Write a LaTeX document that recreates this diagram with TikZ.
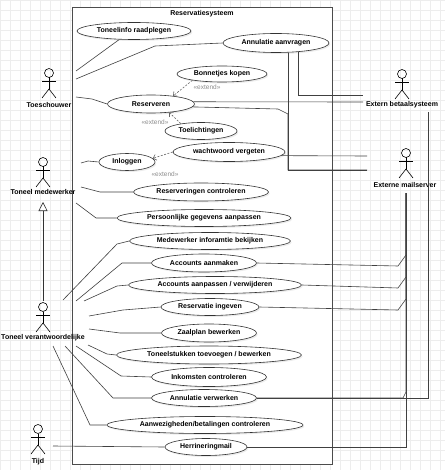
\documentclass[tikz,border=0pt]{standalone}
\usepackage{fontspec}
\setmainfont{Liberation Sans}
\usetikzlibrary{shapes.geometric,arrows.meta,shadows}

% stick figure, head centre at (#1,#2)
\newcommand{\actorfig}[2]{%
  \draw (#1,#2) circle[radius=4.5];
  \draw (#1,#2+4.5) -- (#1,#2+16);
  \draw (#1-7,#2+8) -- (#1+7,#2+8);
  \draw (#1-7,#2+25) -- (#1,#2+16) -- (#1+7,#2+25);
}

\begin{document}
\begin{tikzpicture}[x=1pt, y=-1pt, line width=0.6pt,
  font=\fontsize{7}{8}\selectfont\bfseries,
  uc/.style={ellipse, draw=black!80, fill=white, inner sep=0pt, minimum height=17pt,
    drop shadow={shadow xshift=1.2pt, shadow yshift=-1.5pt, opacity=0.15}},
  actorlbl/.style={inner sep=0pt},
  link/.style={draw=black!75},
  extarrow/.style={draw=black!60, dash pattern=on 2pt off 1.5pt,
    -{Straight Barb[length=3pt, width=6pt]}},
  extlbl/.style={font=\fontsize{6.5}{7}\selectfont, text=black!45, inner sep=0pt}]

\useasboundingbox (0,0) rectangle (445,470);
\fill[white] (0,0) rectangle (445,470);
\draw[black!7, line width=0.3pt, step=10pt] (0,470) grid (445,0);

% System boundary
\draw[black!70, fill=white] (72,7) rectangle (332,464);
\node[inner sep=0pt] (sys) at (202,14) {Reservatiesysteem};

% Actors
\actorfig{49}{73}
\node[actorlbl] (ts) at (49,105) {Toeschouwer};
\actorfig{43}{162}
\node[actorlbl] (tm) at (43,192) {Toneel medewerker};
\actorfig{43}{307}
\node[actorlbl] (tv) at (43,338) {Toneel verantwoordelijke};
\actorfig{38}{429}
\node[actorlbl] (tijd) at (38,462) {Tijd};
\actorfig{402}{74}
\node[actorlbl] (eb) at (402,105) {Extern betaalsysteem};
\actorfig{406}{153}
\node[actorlbl] (em) at (405,185) {Externe mailserver};

% Use cases
\node[uc, minimum width=114pt] (tir) at (134,31) {Toneelinfo raadplegen};
\node[uc, minimum width=106pt, minimum height=19pt] (annvr) at (276,43) {Annulatie aanvragen};
\node[uc, minimum width=90pt, minimum height=16pt] (bk) at (222,74) {Bonnetjes kopen};
\node[uc, minimum width=87pt, minimum height=18pt] (res) at (151,104) {Reserveren};
\node[uc, minimum width=72pt] (tl) at (201,131) {Toelichtingen};
\node[uc, minimum width=112pt, minimum height=19pt] (ww) at (229,152) {wachtwoord vergeten};
\node[uc, minimum width=56pt] (inl) at (127,162) {Inloggen};
\node[uc, minimum width=135pt, minimum height=18pt] (rc) at (201,192) {Reserveringen controleren};
\node[uc, minimum width=174pt] (pg) at (204,218) {Persoonlijke gegevens aanpassen};
\node[uc, minimum width=161pt] (mib) at (210,241) {Medewerker inforamtie bekijken};
\node[uc, minimum width=105pt, minimum height=18pt] (accm) at (204,263) {Accounts aanmaken};
\node[uc, minimum width=173pt] (accp) at (215,285) {Accounts aanpassen / verwijderen};
\node[uc, minimum width=98pt] (resi) at (210,307) {Reservatie ingeven};
\node[uc, minimum width=95pt, minimum height=18pt] (zb) at (209,333) {Zaalplan bewerken};
\node[uc, minimum width=185pt, minimum height=18pt] (tsb) at (209,355) {Toneelstukken toevoegen / bewerken};
\node[uc, minimum width=115pt, minimum height=19pt] (ik) at (209,377) {Inkomsten controleren};
\node[uc, minimum width=105pt] (annvw) at (204,398) {Annulatie verwerken};
\node[uc, minimum width=196pt] (aw) at (205,425) {Aanwezigheden/betalingen controleren};
\node[uc, minimum width=82pt] (herr) at (206,447) {Herrineringmail};

% Connector ends at the actors
\coordinate (ts-a) at (76,71);
\coordinate (ts-b) at (76,79);
\coordinate (ts-c) at (76,97);
\coordinate (tm-a) at (81,163);
\coordinate (tm-b) at (81,187);
\coordinate (tm-c) at (76,203);
\coordinate (tm-top) at (43,202);
\coordinate (tv-top) at (43,301);
\coordinate (tv-a) at (63,300);
\coordinate (tv-b) at (76,301);
\coordinate (tv-c) at (84,301);
\coordinate (tv-d) at (89,316);
\coordinate (tv-e) at (89,329);
\coordinate (tv-f) at (88,345);
\coordinate (tv-g) at (76,346);
\coordinate (tv-h) at (65,346);
\coordinate (tv-i) at (53,346);
\coordinate (tijd-a) at (53,446);
\coordinate (eb-a) at (363,95);
\coordinate (eb-b) at (363,102);
\coordinate (eb-c) at (428,112);
\coordinate (em-a) at (367,156);
\coordinate (em-b) at (367,170);
\coordinate (em-c) at (406,193);

% Toeschouwer
\draw[link] (ts-a) -- (tir.210);
\draw[link] (ts-b) -- (155,46) -- (annvr.west);
\draw[link] (ts-c) -- (92,99) -- (res.west);

% Extern betaalsysteem
\draw[link] (annvr.338) |- (eb-a);
\draw[link] (res.3) -- (eb-b);
\draw[link] (eb-c) |- (annvw.east);

% Externe mailserver
\draw[link] (annvr.322) |- (em-b);
\draw[link] (res.-4) -- (278,109) -- (288,114) |- (em-b);
\draw[link] (ww.-4) -- (em-a);
\draw[link] (em-c) -- (406,255) -- (398,266) -- (accm.east);
\draw[link] (em-c) -- (406,277) -- (398,288) -- (accp.east);
\draw[link] (em-c) -- (406,299) -- (398,310) -- (resi.east);
\draw[link] (em-c) -- (406,392) -- (403,398) -- (annvw.east);
\draw[link] (em-c) |- (herr.east);

% Extend relations
\draw[extarrow] (bk.192) -- (res.20);
\draw[extarrow] (tl.160) -- (res.-25);
\draw[extarrow] (ww.west) -- (inl.8);
\node[extlbl] (ext1) at (207,87) {«extend»};
\node[extlbl] (ext2) at (155,122) {«extend»};
\node[extlbl] (ext3) at (165,174) {«extend»};

% Toneel medewerker
\draw[link] (tm-a) -- (88,161) -- (inl.west);
\draw[link] (tm-b) -- (100,192) -- (rc.west);
\draw[link] (tm-c) -- (96,218) -- (pg.west);

% Generalisation
\draw[black!80, -{Triangle[open, length=9pt, width=9pt]}] (tv-top) -- (tm-top);

% Toneel verantwoordelijke
\draw[link] (tv-a) -- (117,244) -- (mib.west);
\draw[link] (tv-b) -- (122,263) -- (accm.west);
\draw[link] (tv-c) -- (117,286) -- (accp.west);
\draw[link] (tv-d) -- (123,310) -- (resi.west);
\draw[link] (tv-e) -- (120,333) -- (zb.west);
\draw[link] (tv-f) -- (107,354) -- (tsb.west);
\draw[link] (tv-g) -- (121,376) -- (ik.west);
\draw[link] (tv-h) -- (113,398) -- (annvw.west);
\draw[link] (tv-i) -- (90,425) -- (aw.west);

% Tijd
\draw[link] (tijd-a) -- (herr.west);
\end{tikzpicture}
\end{document}
